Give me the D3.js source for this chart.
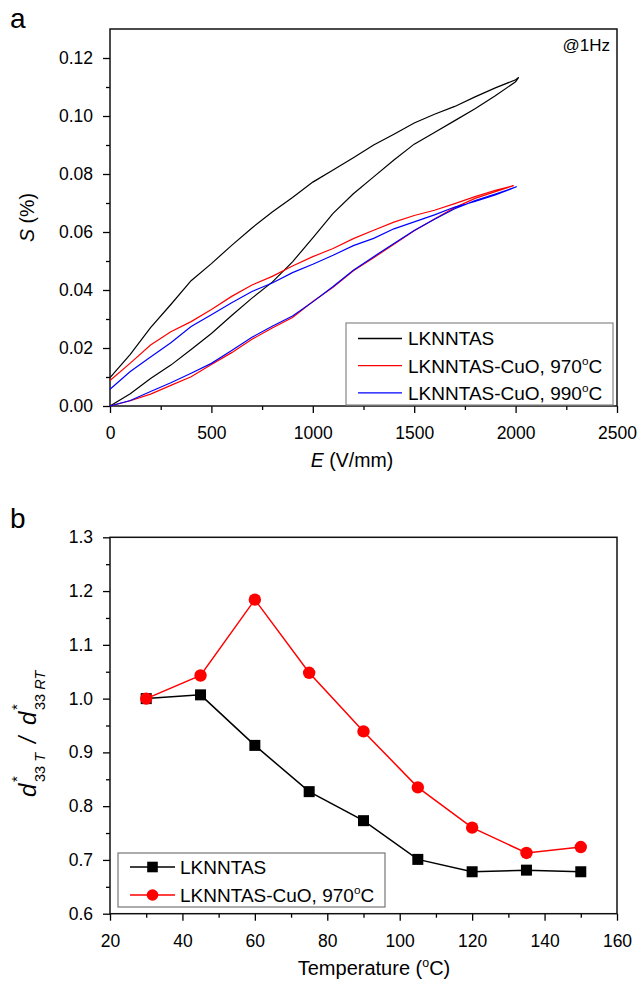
<!DOCTYPE html>
<html>
<head>
<meta charset="utf-8">
<script src="https://cdn.jsdelivr.net/npm/d3@7"></script>
<style>
  body { margin: 0; background: #fff; }
  text { font-family: "Liberation Sans", Arial, sans-serif; fill: #000; }
</style>
</head>
<body>
<svg id="fig" width="638" height="986"></svg>
<script>
// ---- panel a : strain vs field, unipolar loops ----
const eBlack = [0,100,200,300,400,500,600,700,800,900,1000,1100,1200,1300,1400,1500,1600,1700,1800,1900,2000,2015];
const sBlackUp   = [0,.0042,.0095,.0141,.0195,.025,.0312,.0372,.0427,.0497,.058,.0664,.0732,.079,.0848,.0903,.0943,.0984,.1025,.107,.1118,.1133];
const sBlackDown = [.0098,.0178,.027,.035,.0432,.0491,.0554,.0614,.0669,.0719,.0772,.0814,.0856,.09,.0937,.0976,.1006,.1033,.1066,.1097,.1125,.1133];

const eRed = [0,100,200,300,400,500,600,700,800,900,1000,1100,1200,1300,1400,1500,1600,1700,1800,1900,1990];
const sRedUp   = [0,.0018,.0041,.0071,.0101,.0143,.0184,.023,.0269,.0305,.036,.0409,.0466,.0511,.0558,.0604,.0645,.0684,.0716,.0739,.076];
const sRedDown = [.0088,.0148,.021,.0256,.0291,.0333,.0378,.0417,.0447,.0483,.0515,.0543,.0577,.0606,.0634,.0657,.0675,.0698,.0722,.0744,.076];

const eBlue = [0,100,200,300,400,500,600,700,800,900,1000,1100,1200,1300,1400,1500,1600,1700,1800,1900,2005];
const sBlueUp   = [0,.0019,.005,.008,.0113,.0147,.0191,.0237,.0275,.031,.0359,.0412,.0468,.0515,.056,.0605,.0644,.068,.0708,.0731,.0756];
const sBlueDown = [.0058,.0119,.0169,.0218,.0274,.0315,.0356,.0395,.0424,.046,.0489,.052,.0553,.0578,.0611,.0635,.0659,.0686,.0705,.0728,.0756];

const loopNames = ['LKNNTAS', 'LKNNTAS-CuO, 970', 'LKNNTAS-CuO, 990'];

// ---- panel b : normalised d33* vs temperature ----
const temps = [30,45,60,75,90,105,120,135,150];
const ratioBase = [1.0,1.007,0.913,0.827,0.773,0.701,0.678,0.681,0.678];
const ratioCuO  = [1.0,1.043,1.184,1.048,0.939,0.835,0.760,0.713,0.724];
const seriesNames = ['LKNNTAS', 'LKNNTAS-CuO, 970'];

const svg = d3.select('#fig');
const tickFont = '17.5px';

function axes(x, y, xMaj, xMin, yMaj, yMin, yFmt) {
  const bottom = y.range()[0], left = x.range()[0];
  const put = (ax, tr) => {
    const g = svg.append('g').attr('transform', tr).call(ax);
    g.select('.domain').remove();
    g.selectAll('line').attr('stroke', '#000').attr('stroke-width', 1.3);
    g.selectAll('text').style('font-size', tickFont);
    return g;
  };
  put(d3.axisBottom(x).tickValues(xMin).tickSize(4).tickFormat(''), `translate(0,${bottom})`);
  put(d3.axisBottom(x).tickValues(xMaj).tickSize(7).tickPadding(13.5).tickFormat(d3.format('d')), `translate(0,${bottom})`);
  put(d3.axisLeft(y).tickValues(yMin).tickSize(4).tickFormat(''), `translate(${left},0)`);
  put(d3.axisLeft(y).tickValues(yMaj).tickSize(7).tickPadding(10).tickFormat(yFmt), `translate(${left},0)`);
  svg.append('rect')
    .attr('x', left).attr('y', y.range()[1])
    .attr('width', x.range()[1] - left).attr('height', bottom - y.range()[1])
    .attr('fill', 'none').attr('stroke', '#111').attr('stroke-width', 1.5);
}

function degLabel(sel, base, size) {
  sel.append('tspan').text(base);
  sel.append('tspan').attr('dy', -size * 0.42).style('font-size', (size * 0.62) + 'px').text('o');
  sel.append('tspan').attr('dy', size * 0.42).text('C');
}

// ================= panel a =================
const xa = d3.scaleLinear().domain([0, 2500]).range([110, 617]);
const ya = d3.scaleLinear().domain([0, 0.13]).range([406, 29]);

axes(xa, ya,
  d3.range(0, 2501, 500), d3.range(250, 2500, 500),
  d3.range(0, 0.121, 0.02), d3.range(0.01, 0.13, 0.02),
  d3.format('.2f'));

const loops = [
  {e: eBlack, up: sBlackUp, down: sBlackDown, c: '#000'},
  {e: eRed, up: sRedUp, down: sRedDown, c: '#ff0000'},
  {e: eBlue, up: sBlueUp, down: sBlueDown, c: '#0000ff'}
];
const lineA = d3.line().x(d => xa(d[0])).y(d => ya(d[1]));
loops.forEach(l => {
  const pts = l.e.map((e, i) => [e, l.up[i]])
    .concat(l.e.map((e, i) => [e, l.down[i]]).reverse());
  svg.append('path').attr('d', lineA(pts))
    .attr('fill', 'none').attr('stroke', l.c).attr('stroke-width', 1.2);
});

// legend a
const legA = svg.append('g');
legA.append('rect').attr('x', 346).attr('y', 323).attr('width', 267).attr('height', 82)
  .attr('fill', '#fff').attr('stroke', '#888').attr('stroke-width', 1.2);
loops.forEach((l, i) => {
  const cy = 338.5 + i * 27.2;
  legA.append('line').attr('x1', 358).attr('x2', 402).attr('y1', cy).attr('y2', cy)
    .attr('stroke', l.c).attr('stroke-width', 1.3);
  const t = legA.append('text').attr('x', 408).attr('y', cy + 6.8).style('font-size', '19px');
  if (i === 0) t.text(loopNames[i]); else degLabel(t, loopNames[i], 19);
});

svg.append('text').attr('x', 610).attr('y', 51).attr('text-anchor', 'end')
  .style('font-size', '17px').text('@1Hz');

// axis titles a
const xta = svg.append('text').attr('x', 352).attr('y', 467).attr('text-anchor', 'middle').style('font-size', '19.5px');
xta.append('tspan').style('font-style', 'italic').text('E');
xta.append('tspan').text(' (V/mm)');
const yta = svg.append('text').attr('transform', 'translate(34,217.5) rotate(-90)')
  .attr('text-anchor', 'middle').style('font-size', '19.5px');
yta.append('tspan').style('font-style', 'italic').text('S');
yta.append('tspan').text(' (%)');

svg.append('text').attr('x', 10).attr('y', 28).style('font-size', '28px').text('a');

// ================= panel b =================
const xb = d3.scaleLinear().domain([20, 160]).range([110, 617]);
const yb = d3.scaleLinear().domain([0.6, 1.3]).range([913.7, 537.3]);

axes(xb, yb,
  d3.range(20, 161, 20), d3.range(30, 160, 20),
  d3.range(0.6, 1.31, 0.1), d3.range(0.65, 1.3, 0.1),
  d3.format('.1f'));

const lineB = d3.line().x((d, i) => xb(temps[i])).y(d => yb(d));
const square = 11, radius = 6.2;

svg.append('path').attr('d', lineB(ratioBase)).attr('fill', 'none')
  .attr('stroke', '#000').attr('stroke-width', 1.5);
svg.selectAll('.sq').data(ratioBase).enter().append('rect')
  .attr('x', (d, i) => xb(temps[i]) - square / 2).attr('y', d => yb(d) - square / 2)
  .attr('width', square).attr('height', square).attr('fill', '#000');

svg.append('path').attr('d', lineB(ratioCuO)).attr('fill', 'none')
  .attr('stroke', '#ff0000').attr('stroke-width', 1.5);
svg.selectAll('.ci').data(ratioCuO).enter().append('circle')
  .attr('cx', (d, i) => xb(temps[i])).attr('cy', d => yb(d))
  .attr('r', radius).attr('fill', '#ff0000');

// legend b
const legB = svg.append('g');
legB.append('rect').attr('x', 118).attr('y', 853).attr('width', 267).attr('height', 54)
  .attr('fill', '#fff').attr('stroke', '#777').attr('stroke-width', 1.2);
[['#000', 'sq'], ['#ff0000', 'ci']].forEach(([c, m], i) => {
  const cy = 867 + i * 28;
  legB.append('line').attr('x1', 130).attr('x2', 175).attr('y1', cy).attr('y2', cy)
    .attr('stroke', c).attr('stroke-width', 1.5);
  if (m === 'sq') {
    legB.append('rect').attr('x', 152.5 - 5.3).attr('y', cy - 5.3).attr('width', 10.6).attr('height', 10.6).attr('fill', c);
  } else {
    legB.append('circle').attr('cx', 152.5).attr('cy', cy).attr('r', 5.8).attr('fill', c);
  }
  const t = legB.append('text').attr('x', 180).attr('y', cy + 6.8).style('font-size', '19px');
  if (i === 0) t.text(seriesNames[i]); else degLabel(t, seriesNames[i], 19);
});

// axis titles b
const xtb = svg.append('text').attr('x', 374).attr('y', 975).attr('text-anchor', 'middle').style('font-size', '20px');
degLabel(xtb, 'Temperature (', 20);
xtb.append('tspan').text(')');

const ytb = svg.append('g').attr('transform', 'translate(36,728) rotate(-90)');
function dStar(g, x0, sub, subItal) {
  g.append('text').attr('x', x0).attr('y', 0).style('font-size', '24px').style('font-style', 'italic').text('d');
  g.append('text').attr('x', x0 + 15).attr('y', -14).style('font-size', '15px').text('*');
  const s = g.append('text').attr('x', x0 + 15).attr('y', 9).style('font-size', '14.5px');
  s.append('tspan').text(sub);
  s.append('tspan').style('font-style', 'italic').text(subItal);
}
dStar(ytb, -69, '33 ', 'T');
ytb.append('text').attr('x', -15).attr('y', 0).style('font-size', '23px').style('font-style', 'italic').text('/');
dStar(ytb, 3, '33 ', 'RT');

svg.append('text').attr('x', 10).attr('y', 528).style('font-size', '28px').text('b');
</script>
</body>
</html>
